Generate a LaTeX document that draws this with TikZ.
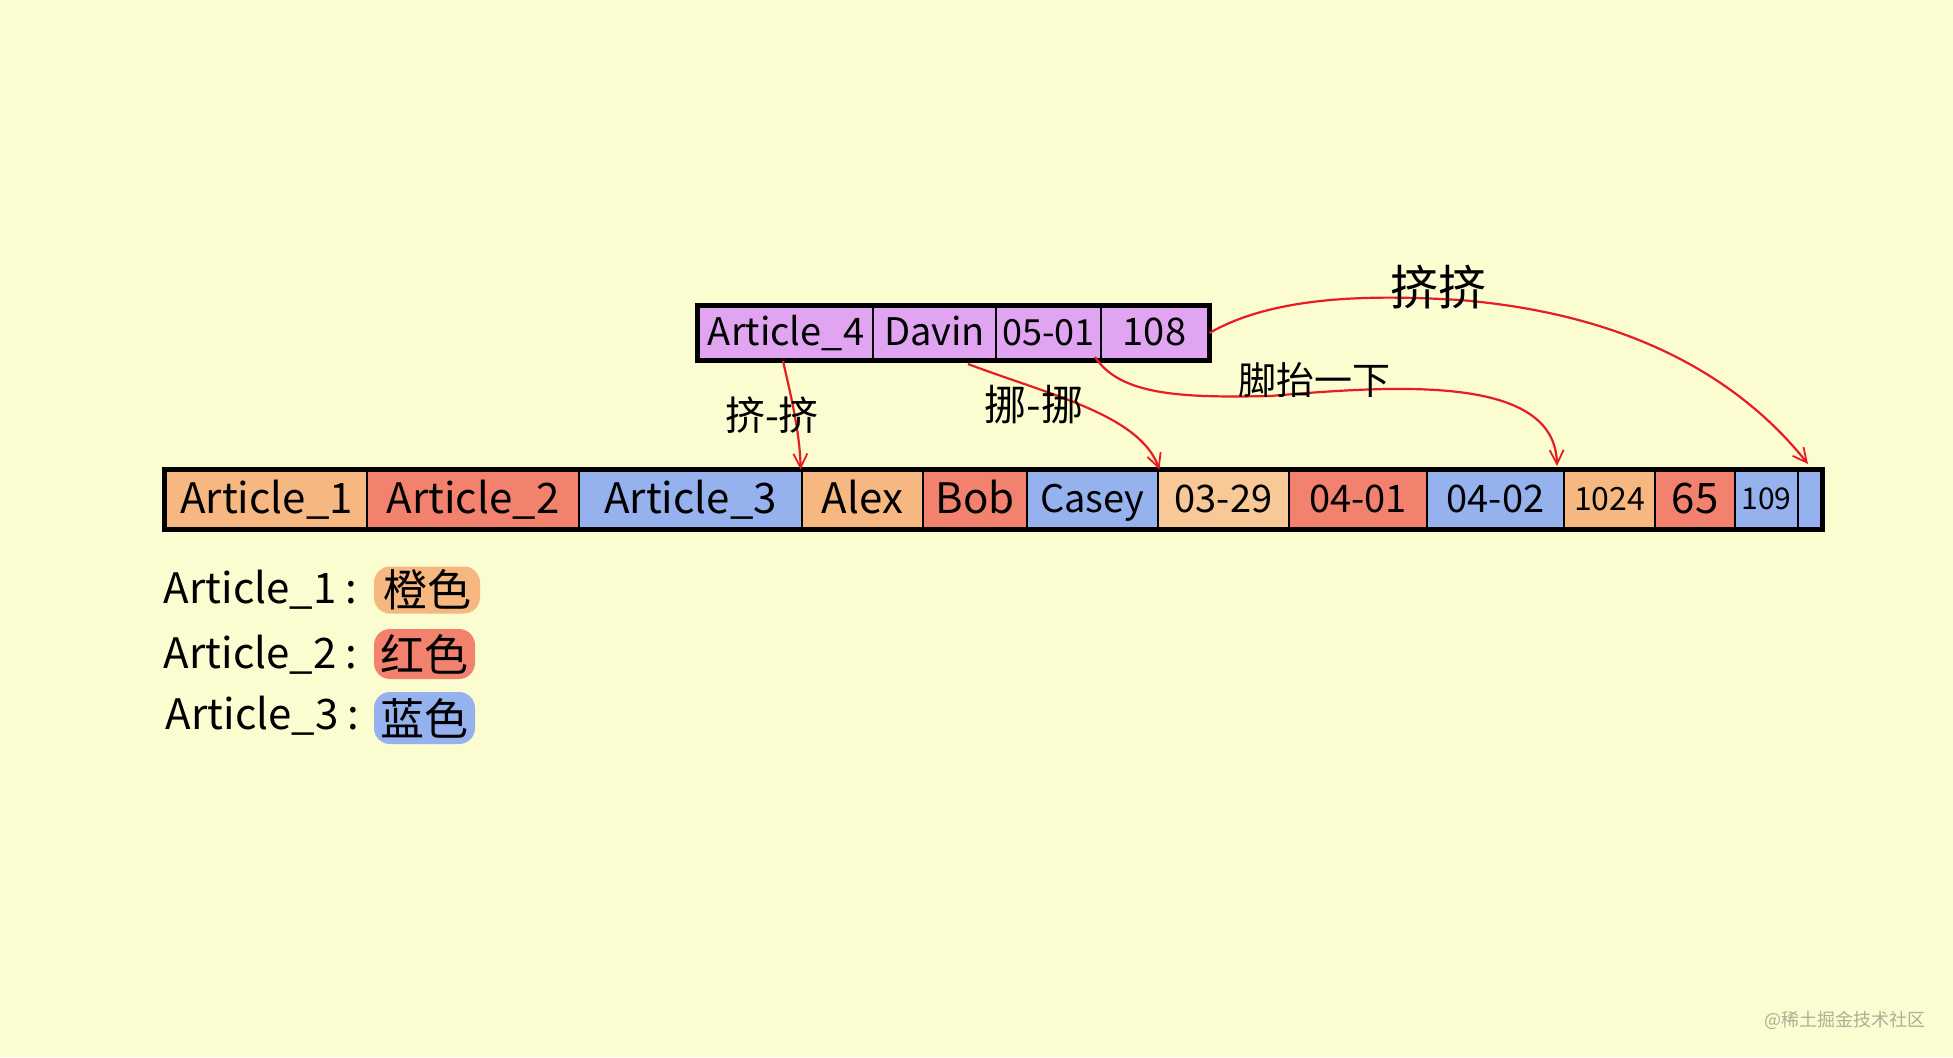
\documentclass[tikz,border=0pt]{standalone}
\usepackage{fontspec}
\setmainfont{Noto Sans CJK SC}
\usetikzlibrary{arrows.meta}
\definecolor{bg}{RGB}{251,252,208}
\definecolor{corange}{RGB}{246,184,128}
\definecolor{corangel}{RGB}{248,200,150}
\definecolor{cred}{RGB}{242,130,110}
\definecolor{cblue}{RGB}{150,178,238}
\definecolor{cpurple}{RGB}{224,164,240}
\definecolor{ared}{RGB}{232,28,36}
\definecolor{wm}{RGB}{172,175,150}
\tikzset{
  cell/.style={draw=black, line width=1.4pt, minimum height=28.5pt, inner sep=0pt,
    text height=13.5pt, text depth=0pt,
    font=\fontsize{21}{21}\selectfont},
  topcell/.style={cell, minimum height=26pt, fill=cpurple, text height=12.5pt,
    font=\fontsize{19}{19}\selectfont},
  frame/.style={draw=black, line width=2.2pt},
  link/.style={draw=ared, line width=1.1pt, -{Straight Barb[length=7pt,width=7pt,line width=0.9pt]}},
  linklabel/.style={inner sep=0pt, text=black},
  legendtxt/.style={anchor=east, inner sep=0pt, font=\fontsize{21}{21}\selectfont},
  swatch/.style={rounded corners=8pt, inner sep=0pt, font=\fontsize{22}{22}\selectfont}
}
\begin{document}
\begin{tikzpicture}[x=0.5pt,y=-0.5pt]
\fill[bg] (0,0) rectangle (1953,1057);
\useasboundingbox (0,0) rectangle (1953,1057);

% top record
\node[topcell, minimum width=87pt]   (a4)    at (786,333)    {Article\_4};
\node[topcell, minimum width=61.5pt] (davin) at (934.5,333)  {Davin};
\node[topcell, minimum width=52.5pt, text height=12pt, font=\fontsize{18}{18}\selectfont] (d0501) at (1048.5,333) {05-01};
\node[topcell, minimum width=53.5pt] (n108)  at (1154.5,333) {108};
\draw[frame] (a4.north west) rectangle (n108.south east);

% main row
\node[cell, fill=corange, minimum width=100.5pt] (a1)    at (266.5,499.5)  {Article\_1};
\node[cell, fill=cred,    minimum width=106pt]   (a2)    at (473,499.5)    {Article\_2};
\node[cell, fill=cblue,   minimum width=111.5pt] (a3)    at (690.5,499.5)  {Article\_3};
\node[cell, fill=corange, minimum width=60.5pt]  (alex)  at (862.5,499.5)  {Alex};
\node[cell, fill=cred,    minimum width=52pt]    (bob)   at (975,499.5)    {Bob};
\node[cell, fill=cblue,   minimum width=65.5pt, text height=12.5pt, font=\fontsize{19}{19}\selectfont]  (casey) at (1092.5,499.5) {Casey};
\node[cell, fill=corangel,minimum width=65.5pt, text height=12.5pt, font=\fontsize{19}{19}\selectfont] (d0329) at (1223.5,499.5) {03-29};
\node[cell, fill=cred,    minimum width=69pt, text height=12.5pt, font=\fontsize{19}{19}\selectfont]   (d0401) at (1358,499.5)   {04-01};
\node[cell, fill=cblue,   minimum width=68.5pt, text height=12.5pt, font=\fontsize{19}{19}\selectfont] (d0402) at (1495.5,499.5) {04-02};
\node[cell, fill=corange, minimum width=45.5pt, text height=10.5pt, font=\fontsize{16}{16}\selectfont] (n1024) at (1609.5,499.5) {1024};
\node[cell, fill=cred,    minimum width=40pt]    (n65)   at (1695,499.5)   {65};
\node[cell, fill=cblue,   minimum width=31.5pt, text height=10pt, font=\fontsize{15}{15}\selectfont] (n109) at (1766.5,499.5) {109};
\node[cell, fill=cblue,   minimum width=11.5pt]  (tail)  at (1809.5,499.5) {};
\draw[frame] (a1.north west) rectangle (tail.south east);

% legend
\node[legendtxt] (l1) at (358,590) {Article\_1 :};
\node[legendtxt] (l2) at (358,655) {Article\_2 :};
\node[legendtxt] (l3) at (360,716) {Article\_3 :};
\node[swatch, fill=corange, minimum width=53pt, minimum height=23.5pt] (s1) at (427,590) {橙色};
\node[swatch, fill=cred,    minimum width=50.5pt, minimum height=25pt] (s2) at (424.5,654) {红色};
\node[swatch, fill=cblue,   minimum width=50.5pt, minimum height=26pt] (s3) at (424.5,718) {蓝色};

% connectors
\coordinate (st1) at (783,361);
\coordinate (st2) at (968,364);
\coordinate (st3) at (1095,357);
\coordinate (en3) at (1557,466);
\coordinate (en4) at (1808,464);
\draw[link] (st1) .. controls (792,400) and (800,435) .. (alex.north west);
\draw[link] (st2) .. controls (1050,395) and (1140,415) .. (casey.north east);
\draw[link] (st3) .. controls (1120,395) and (1180,398) .. (1270,396)
                  .. controls (1400,385) and (1555,375) .. (en3);
\draw[link] (n108.east) .. controls (1280,292) and (1390,296) .. (1460,300)
                  .. controls (1640,315) and (1745,385) .. (en4);

\node[linklabel, font=\fontsize{20}{20}\selectfont] (t1) at (772,415) {挤-挤};
\node[linklabel, font=\fontsize{21}{21}\selectfont] (t2) at (1034,405) {挪-挪};
\node[linklabel, font=\fontsize{19}{19}\selectfont] (t3) at (1314,380) {脚抬一下};
\node[linklabel, font=\fontsize{24}{24}\selectfont] (t4) at (1438,287) {挤挤};

% watermark
\node[inner sep=0pt, text=wm, font=\fontsize{9}{9}\selectfont] (wm) at (1845,1020) {@稀土掘金技术社区};
\end{tikzpicture}
\end{document}
